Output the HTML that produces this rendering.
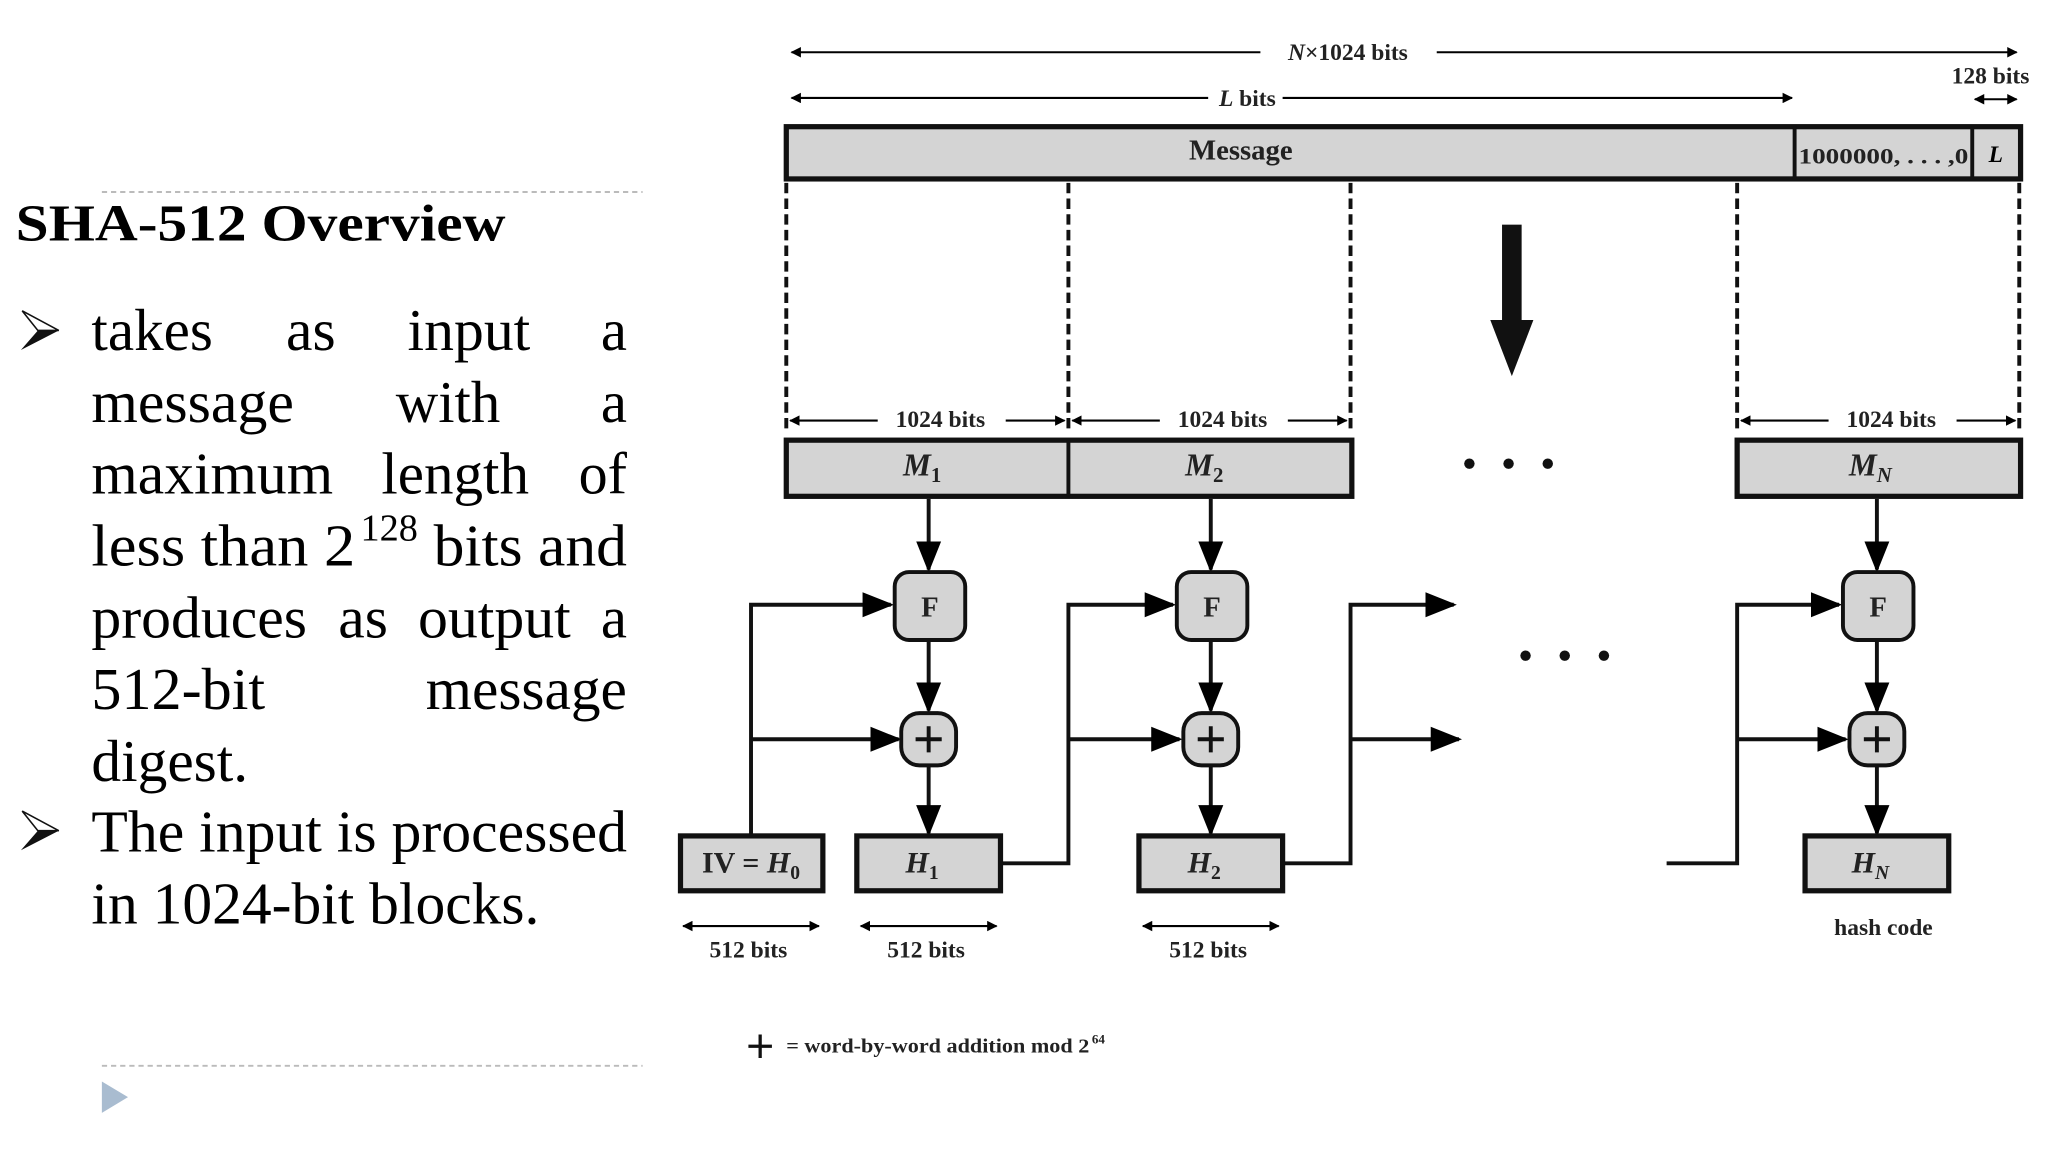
<!DOCTYPE html>
<html><head><meta charset="utf-8"><style>
html,body{margin:0;padding:0;background:#fff;width:2048px;height:1152px;overflow:hidden}
svg{display:block}
.s{font-family:"Liberation Serif",serif}
</style></head><body>
<svg width="2048" height="1152" viewBox="0 0 1568 882" xmlns="http://www.w3.org/2000/svg">
<defs>
<marker id="a" viewBox="0 0 10 10" refX="9" refY="5" markerWidth="5" markerHeight="5" orient="auto-start-reverse"><path d="M0,0L10,5L0,10z" fill="#000"/></marker>
<marker id="b" viewBox="0 0 10 10" refX="9" refY="5" markerWidth="8" markerHeight="8" orient="auto-start-reverse"><path d="M0,1L10,5L0,9z" fill="#000"/></marker>
</defs>
<g class="s">
<!-- left column -->
<line x1="78" y1="147" x2="492" y2="147" stroke="#bbb" stroke-width="1.5" stroke-dasharray="4 3"/>
<line x1="78" y1="816" x2="492" y2="816" stroke="#bbb" stroke-width="1.5" stroke-dasharray="4 3"/>
<path d="M78,828L98,840L78,852z" fill="#a9bcd0"/>
<text x="12" y="184" font-size="40" font-weight="bold" textLength="375" lengthAdjust="spacingAndGlyphs">SHA-512 Overview</text>
<path d="M17,238L45,253L16,268L29,253z" fill="#111"/>
<path d="M17,238L45,253L29,253z" fill="#fff" stroke="#111" stroke-width="1.2"/>
<path d="M17,621L45,636L16,651L29,636z" fill="#111"/>
<path d="M17,621L45,636L29,636z" fill="#fff" stroke="#111" stroke-width="1.2"/>
<g font-size="45">
<text x="70" y="268" textLength="93" lengthAdjust="spacingAndGlyphs">takes</text><text x="219" y="268" textLength="38" lengthAdjust="spacingAndGlyphs">as</text><text x="312" y="268" textLength="94" lengthAdjust="spacingAndGlyphs">input</text><text x="460" y="268">a</text>
<text x="70" y="323" textLength="155" lengthAdjust="spacingAndGlyphs">message</text><text x="303" y="323" textLength="80" lengthAdjust="spacingAndGlyphs">with</text><text x="460" y="323">a</text>
<text x="70" y="378" textLength="185" lengthAdjust="spacingAndGlyphs">maximum</text><text x="292" y="378" textLength="113" lengthAdjust="spacingAndGlyphs">length</text><text x="443" y="378" textLength="37" lengthAdjust="spacingAndGlyphs">of</text>
<text x="70" y="433" textLength="202" lengthAdjust="spacingAndGlyphs">less than 2</text><text x="276" y="414" font-size="29" textLength="44" lengthAdjust="spacingAndGlyphs">128</text><text x="332" y="433" textLength="148" lengthAdjust="spacingAndGlyphs">bits and</text>
<text x="70" y="488" textLength="165" lengthAdjust="spacingAndGlyphs">produces</text><text x="259" y="488" textLength="38" lengthAdjust="spacingAndGlyphs">as</text><text x="320" y="488" textLength="117" lengthAdjust="spacingAndGlyphs">output</text><text x="460" y="488">a</text>
<text x="70" y="543" textLength="133" lengthAdjust="spacingAndGlyphs">512-bit</text><text x="326" y="543" textLength="154" lengthAdjust="spacingAndGlyphs">message</text>
<text x="70" y="598" textLength="120" lengthAdjust="spacingAndGlyphs">digest.</text>
<text x="70" y="652" textLength="410" lengthAdjust="spacingAndGlyphs">The input is processed</text>
<text x="70" y="707" textLength="343" lengthAdjust="spacingAndGlyphs">in 1024-bit blocks.</text>
</g>
<!-- diagram top -->
<g stroke="#000" stroke-width="1.6" fill="none">
<line x1="606" y1="40" x2="965" y2="40" marker-start="url(#a)"/>
<line x1="1100" y1="40" x2="1544" y2="40" marker-end="url(#a)"/>
<line x1="606" y1="75" x2="925" y2="75" marker-start="url(#a)"/>
<line x1="982" y1="75" x2="1372" y2="75" marker-end="url(#a)"/>
<line x1="1512" y1="76" x2="1544" y2="76" marker-start="url(#a)" marker-end="url(#a)"/>
</g>
<g font-size="18" font-weight="bold" fill="#222">
<text x="1032" y="46" text-anchor="middle"><tspan font-style="italic">N</tspan>×1024 bits</text>
<text x="955" y="81" text-anchor="middle"><tspan font-style="italic">L</tspan> bits</text>
<text x="1524" y="64" text-anchor="middle">128 bits</text>
</g>
<rect x="602" y="97" width="945" height="40" fill="#d4d4d4" stroke="#111" stroke-width="4"/>
<line x1="1374" y1="97" x2="1374" y2="137" stroke="#111" stroke-width="3"/>
<line x1="1510" y1="97" x2="1510" y2="137" stroke="#111" stroke-width="3"/>
<text x="950" y="122" font-size="22" font-weight="bold" text-anchor="middle" fill="#222">Message</text>
<text x="1377" y="125" font-size="17" font-weight="bold" fill="#222" textLength="130" lengthAdjust="spacingAndGlyphs">1000000, . . . ,0</text>
<text x="1528" y="124" font-size="18" font-weight="bold" font-style="italic" text-anchor="middle">L</text>
<g stroke="#111" stroke-width="3" stroke-dasharray="8 4">
<line x1="602" y1="140" x2="602" y2="332"/><line x1="818" y1="140" x2="818" y2="332"/>
<line x1="1034" y1="140" x2="1034" y2="332"/><line x1="1330" y1="140" x2="1330" y2="332"/>
<line x1="1546" y1="140" x2="1546" y2="332"/>
</g>
<rect x="1150" y="172" width="15" height="75" fill="#111"/>
<path d="M1141,245L1174,245L1157.5,288z" fill="#111"/>
<g stroke="#000" stroke-width="1.6">
<line x1="605" y1="322" x2="672" y2="322" marker-start="url(#a)"/><line x1="770" y1="322" x2="815" y2="322" marker-end="url(#a)"/>
<line x1="821" y1="322" x2="888" y2="322" marker-start="url(#a)"/><line x1="986" y1="322" x2="1031" y2="322" marker-end="url(#a)"/>
<line x1="1333" y1="322" x2="1400" y2="322" marker-start="url(#a)"/><line x1="1498" y1="322" x2="1543" y2="322" marker-end="url(#a)"/>
</g>
<g font-size="18" font-weight="bold" fill="#222" text-anchor="middle">
<text x="720" y="327">1024  bits</text><text x="936" y="327">1024  bits</text><text x="1448" y="327">1024  bits</text>
</g>
<rect x="602" y="337" width="433" height="43" fill="#d4d4d4" stroke="#111" stroke-width="4"/>
<line x1="818" y1="337" x2="818" y2="380" stroke="#111" stroke-width="3"/>
<rect x="1330" y="337" width="217" height="43" fill="#d4d4d4" stroke="#111" stroke-width="4"/>
<g font-size="24" font-weight="bold" font-style="italic" fill="#222" text-anchor="middle">
<text x="706" y="364">M<tspan font-size="16" dy="5" font-style="normal">1</tspan></text>
<text x="922" y="364">M<tspan font-size="16" dy="5" font-style="normal">2</tspan></text>
<text x="1432" y="364">M<tspan font-size="16" dy="5">N</tspan></text>
</g>
<g fill="#111"><circle cx="1125" cy="355" r="4"/><circle cx="1155" cy="355" r="4"/><circle cx="1185" cy="355" r="4"/>
<circle cx="1168" cy="502" r="4"/><circle cx="1198" cy="502" r="4"/><circle cx="1228" cy="502" r="4"/></g>
<!-- flows -->
<g stroke="#111" stroke-width="3" fill="none">
<line x1="711" y1="382" x2="711" y2="436" marker-end="url(#b)"/>
<line x1="927" y1="382" x2="927" y2="436" marker-end="url(#b)"/>
<line x1="1437" y1="382" x2="1437" y2="436" marker-end="url(#b)"/>
<line x1="711" y1="490" x2="711" y2="544" marker-end="url(#b)"/>
<line x1="927" y1="490" x2="927" y2="544" marker-end="url(#b)"/>
<line x1="1437" y1="490" x2="1437" y2="544" marker-end="url(#b)"/>
<line x1="711" y1="586" x2="711" y2="638" marker-end="url(#b)"/>
<line x1="927" y1="586" x2="927" y2="638" marker-end="url(#b)"/>
<line x1="1437" y1="586" x2="1437" y2="638" marker-end="url(#b)"/>
<path d="M575,640V463H682" marker-end="url(#b)"/><path d="M575,566H688" marker-end="url(#b)"/>
<path d="M766,661H818V463H898" marker-end="url(#b)"/><path d="M818,566H903" marker-end="url(#b)"/>
<path d="M982,661H1034V463H1113" marker-end="url(#b)"/><path d="M1034,566H1117" marker-end="url(#b)"/>
<path d="M1276,661H1330V463H1408" marker-end="url(#b)"/><path d="M1330,566H1413" marker-end="url(#b)"/>
</g>
<g fill="#d4d4d4" stroke="#111" stroke-width="3">
<rect x="685" y="438" width="54" height="52" rx="11"/><rect x="901" y="438" width="54" height="52" rx="11"/><rect x="1411" y="438" width="54" height="52" rx="11"/>
<rect x="690" y="546" width="42" height="40" rx="14"/><rect x="906" y="546" width="42" height="40" rx="14"/><rect x="1416" y="546" width="42" height="40" rx="14"/>
</g>
<g font-size="22" font-weight="bold" text-anchor="middle" fill="#222">
<text x="712" y="472">F</text><text x="928" y="472">F</text><text x="1438" y="472">F</text>
</g>
<g stroke="#111" stroke-width="3">
<path d="M701,566H721M711,556V576"/><path d="M917,566H937M927,556V576"/><path d="M1427,566H1447M1437,556V576"/>
</g>
<g fill="#d4d4d4" stroke="#111" stroke-width="4">
<rect x="521" y="640" width="109" height="42"/><rect x="656" y="640" width="110" height="42"/>
<rect x="872" y="640" width="110" height="42"/><rect x="1382" y="640" width="110" height="42"/>
</g>
<g font-size="23" font-weight="bold" fill="#222" text-anchor="middle">
<text x="575" y="668">IV = <tspan font-style="italic">H</tspan><tspan font-size="15" dy="5">0</tspan></text>
<text x="706" y="668" font-style="italic">H<tspan font-size="15" dy="5" font-style="normal">1</tspan></text>
<text x="922" y="668" font-style="italic">H<tspan font-size="15" dy="5" font-style="normal">2</tspan></text>
<text x="1432" y="668" font-style="italic">H<tspan font-size="15" dy="5">N</tspan></text>
</g>
<g stroke="#000" stroke-width="1.6">
<line x1="523" y1="709" x2="627" y2="709" marker-start="url(#a)" marker-end="url(#a)"/>
<line x1="659" y1="709" x2="763" y2="709" marker-start="url(#a)" marker-end="url(#a)"/>
<line x1="875" y1="709" x2="979" y2="709" marker-start="url(#a)" marker-end="url(#a)"/>
</g>
<g font-size="18" font-weight="bold" fill="#222" text-anchor="middle">
<text x="573" y="733">512  bits</text><text x="709" y="733">512  bits</text><text x="925" y="733">512  bits</text>
<text x="1442" y="716">hash code</text>
</g>
<path d="M573,801H591M582,792V810" stroke="#111" stroke-width="2.5"/>
<text x="602" y="806" font-size="15" font-weight="bold" fill="#222" textLength="232" lengthAdjust="spacingAndGlyphs">= word-by-word addition mod 2</text>
<text x="836" y="799" font-size="10" font-weight="bold" fill="#222">64</text>
</g>
</svg>
</body></html>
